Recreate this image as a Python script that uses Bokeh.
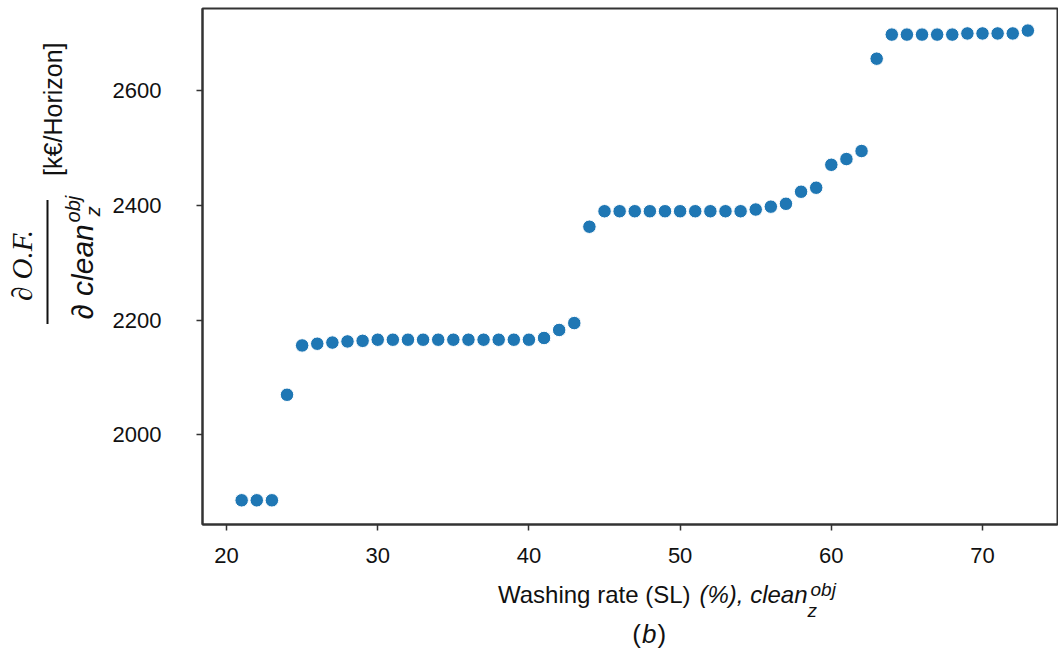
import math
from bokeh.plotting import figure
from bokeh.models import Range1d
from bokeh.layouts import column, row
from bokeh.core.properties import value
from bokeh.embed import file_html
from bokeh.resources import INLINE

# ---- data ----
washing_rate = [21, 22, 23, 24, 25, 26, 27, 28, 29, 30,
                31, 32, 33, 34, 35, 36, 37, 38, 39, 40,
                41, 42, 43, 44, 45, 46, 47, 48, 49, 50,
                51, 52, 53, 54, 55, 56, 57, 58, 59, 60,
                61, 62, 63, 64, 65, 66, 67, 68, 69, 70,
                71, 72, 73]
derivative = [1886, 1886, 1886, 2070, 2156, 2159, 2161, 2163, 2164, 2166,
              2166, 2166, 2166, 2166, 2166, 2166, 2166, 2166, 2166, 2166,
              2169, 2183, 2195, 2363, 2390, 2390, 2390, 2390, 2390, 2390,
              2390, 2390, 2390, 2390, 2393, 2398, 2403, 2424, 2431, 2471,
              2481, 2495, 2656, 2698, 2698, 2698, 2698, 2698, 2700, 2700,
              2700, 2700, 2705]
x_ticks = [20, 30, 40, 50, 60, 70]
y_ticks = [2000, 2200, 2400, 2600]

SANS = "Liberation Sans"
SERIF = "Liberation Serif"
INK = "#111111"
AXIS = "#333333"

# ---- page geometry (layout origin at page 0,0) ----
LEFT_W = 102       # page x 0 .. 102  (y-label strip)
TOP_H = 574        # page y 0 .. 574
BOTTOM_H = 75      # page y 574 .. 649 (x-label strip)
FRAME_W, FRAME_H = 855, 516
MAIN_LEFT, MAIN_TOP = 100, 8
TOTAL_W = 1058

# ---- main plot ----
main = figure(frame_width=FRAME_W, frame_height=FRAME_H, output_backend="svg",
              toolbar_location=None,
              x_range=Range1d(18.41, 74.96), y_range=Range1d(1843.8, 2743.5),
              min_border_left=MAIN_LEFT,
              min_border_right=TOTAL_W - LEFT_W - MAIN_LEFT - FRAME_W,
              min_border_top=MAIN_TOP,
              min_border_bottom=TOP_H - MAIN_TOP - FRAME_H,
              background_fill_color="white", border_fill_color="white")

main.scatter(washing_rate, derivative, size=13.5, fill_color="#1f77b4",
             line_color="white", line_width=1)

main.grid.visible = False
main.outline_line_color = AXIS
main.outline_line_width = 2

for ax in (main.xaxis, main.yaxis):
    ax.axis_line_color = AXIS
    ax.axis_line_width = 2
    ax.major_tick_out = 6
    ax.major_tick_in = 0
    ax.major_tick_line_width = 1.5
    ax.major_tick_line_color = AXIS
    ax.minor_tick_out = 0
    ax.minor_tick_in = 0
    ax.major_label_text_font = SANS
    ax.major_label_text_font_size = "22px"
    ax.major_label_text_color = INK

main.xaxis.ticker = x_ticks
main.yaxis.ticker = y_ticks
main.xaxis.major_label_standoff = 17
main.yaxis.major_label_standoff = 35


def strip(width, height, x0, y_top):
    f = figure(width=width, height=height, output_backend="svg",
               toolbar_location=None, x_axis_type=None, y_axis_type=None,
               x_range=Range1d(x0, x0 + width),
               y_range=Range1d(-(y_top + height), -y_top),
               min_border=0, outline_line_color=None,
               background_fill_color="white", border_fill_color="white")
    f.grid.visible = False
    return f


def txt(f, X, Y, text, size, align="left", style="normal", font=SANS, angle=0.0):
    f.text(x=[X], y=[-Y], text=[text], angle=angle,
           text_font=value(font), text_font_size=value(f"{size}px"),
           text_font_style=value(style), text_align=value(align),
           text_baseline=value("middle"), text_color=INK)


# ---- y-axis label strip (left) ----
left = strip(LEFT_W, TOP_H, 0, 0)
R = math.pi / 2
txt(left, 52, 112, "[k€/Horizon]", 25, align="center", angle=R)
txt(left, 21, 286, "∂ O.F.", 29, align="center", style="italic", font=SERIF, angle=R)
left.segment(x0=[47], y0=[-213], x1=[47], y1=[-351], line_width=2, line_color=INK)
txt(left, 82, 240, "∂ clean", 30, align="right", style="italic", angle=R)
txt(left, 92, 231, "z", 20, style="italic", angle=R)
txt(left, 72, 238, "obj", 20, style="italic", angle=R)

# ---- x-axis label strip (bottom) ----
bottom = strip(TOTAL_W, BOTTOM_H, 0, TOP_H)
txt(bottom, 690, 594, "Washing rate (SL)", 24, align="right")
txt(bottom, 807, 594, "(%), clean", 24, align="right", style="italic")
txt(bottom, 807, 610, "z", 19, style="italic")
txt(bottom, 810, 589, "obj", 19, style="italic")
txt(bottom, 640.5, 633, "(", 26, align="right")
txt(bottom, 641.5, 633, "b", 26, style="italic")
txt(bottom, 657, 633, ")", 26)

layout = column(row(left, main), bottom)

open("out.html", "w").write(file_html(layout, INLINE))
